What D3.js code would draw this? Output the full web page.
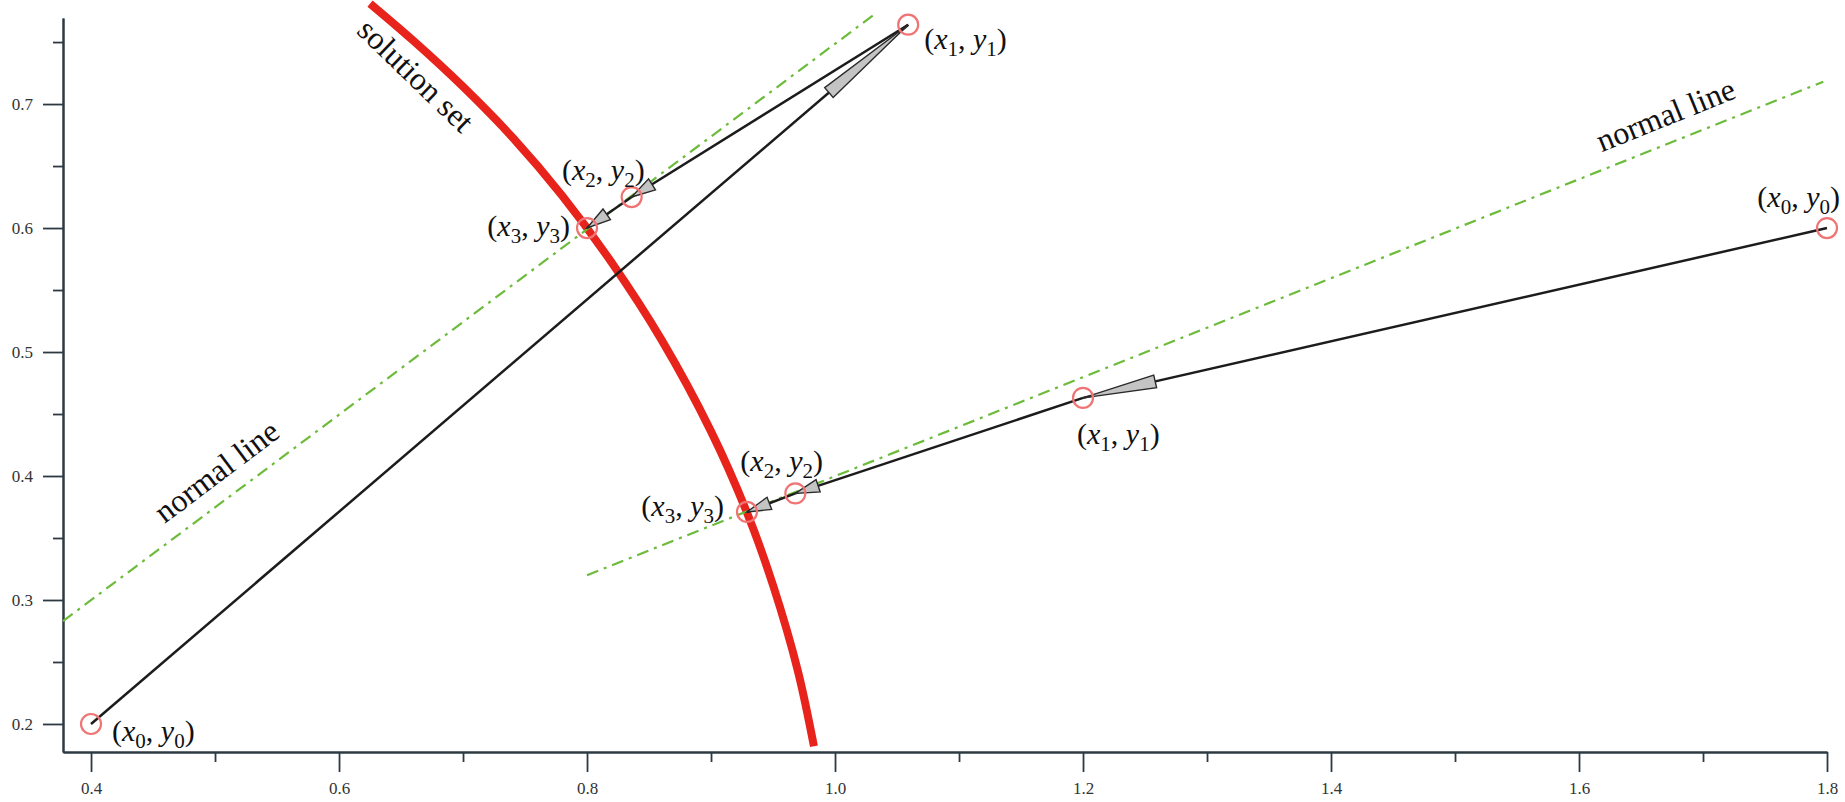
<!DOCTYPE html>
<html>
<head>
<meta charset="utf-8">
<script src="https://cdn.jsdelivr.net/npm/d3@7"></script>
<style>
  html, body { margin: 0; padding: 0; background: #fff; }
  svg { display: block; }
</style>
</head>
<body>
<svg id="chart" width="1845" height="802"></svg>
<script>
// ---------- data ----------
const xMajorTicks = [0.4, 0.6, 0.8, 1.0, 1.2, 1.4, 1.6, 1.8];
const xTickLabels = ["0.4", "0.6", "0.8", "1.0", "1.2", "1.4", "1.6", "1.8"];
const xMinorTicks = [0.5, 0.7, 0.9, 1.1, 1.3, 1.5, 1.7];
const yMajorTicks = [0.2, 0.3, 0.4, 0.5, 0.6, 0.7];
const yTickLabels = ["0.2", "0.3", "0.4", "0.5", "0.6", "0.7"];
const yMinorTicks = [0.25, 0.35, 0.45, 0.55, 0.65, 0.75];

// solution set curve (red)
const solutionX = [0.625, 0.66, 0.70, 0.74, 0.78, 0.82, 0.86, 0.90, 0.93, 0.95, 0.97, 0.983];
const solutionY = [0.781, 0.751, 0.714, 0.673, 0.626, 0.572, 0.510, 0.436, 0.368, 0.312, 0.243, 0.182];

// iterates, starting point (0.4, 0.2)
const leftIterX = [0.4, 1.059, 0.836, 0.80];
const leftIterY = [0.2, 0.764, 0.625, 0.60];
// iterates, starting point (1.8, 0.6)
const rightIterX = [1.8, 1.20, 0.968, 0.929];
const rightIterY = [0.6, 0.463, 0.386, 0.371];
const iterIndex = ["0", "1", "2", "3"];

// normal lines (green dash-dot)
const normalLeftX = [0.3774, 1.034];
const normalLeftY = [0.283, 0.774];
const normalRightX = [0.80, 1.797];
const normalRightY = [0.320, 0.718];

const curveLabels = ["solution set", "normal line", "normal line"];
const curveLabelX = [0.660, 0.503, 1.671];
const curveLabelY = [0.721, 0.4016, 0.6887];

// ---------- layout ----------
const svg = d3.select("#chart");
const x = d3.scaleLinear().domain([0.3774, 1.8]).range([63, 1827]);
const y = d3.scaleLinear().domain([0.1774, 0.7694]).range([752, 18]);

const axisColor = "#2d3a44";
const serif = "'Liberation Serif', 'Times New Roman', serif";

// axes
function styleAxis(g) {
  g.select(".domain").attr("stroke", axisColor).attr("stroke-width", 2);
  g.selectAll(".tick line").attr("stroke", axisColor).attr("stroke-width", 1.8);
  g.selectAll(".tick text").attr("fill", "#333").style("font-family", serif).style("font-size", "17px");
}
const gx = svg.append("g").attr("transform", `translate(0,${y.range()[0]})`)
  .call(d3.axisBottom(x).tickValues(xMajorTicks).tickSize(20).tickSizeOuter(0).tickPadding(10)
    .tickFormat((d, i) => xTickLabels[i]));
styleAxis(gx);
const gxm = svg.append("g").attr("transform", `translate(0,${y.range()[0]})`)
  .call(d3.axisBottom(x).tickValues(xMinorTicks).tickSize(10).tickSizeOuter(0).tickFormat(""));
styleAxis(gxm);
const gy = svg.append("g").attr("transform", `translate(${x.range()[0]},0)`)
  .call(d3.axisLeft(y).tickValues(yMajorTicks).tickSize(20).tickSizeOuter(0).tickPadding(10)
    .tickFormat((d, i) => yTickLabels[i]));
styleAxis(gy);
const gym = svg.append("g").attr("transform", `translate(${x.range()[0]},0)`)
  .call(d3.axisLeft(y).tickValues(yMinorTicks).tickSize(10).tickSizeOuter(0).tickFormat(""));
styleAxis(gym);

// solution set
const solPts = solutionX.map((v, i) => [v, solutionY[i]]);
svg.append("path")
  .attr("d", d3.line().x(d => x(d[0])).y(d => y(d[1])).curve(d3.curveCatmullRom)(solPts))
  .attr("fill", "none").attr("stroke", "#e8231c").attr("stroke-width", 8).attr("stroke-linecap", "butt");

// normal lines
[[normalLeftX, normalLeftY], [normalRightX, normalRightY]].forEach(([xs, ys]) => {
  svg.append("line")
    .attr("x1", x(xs[0])).attr("y1", y(ys[0])).attr("x2", x(xs[1])).attr("y2", y(ys[1]))
    .attr("stroke", "#6cbb3a").attr("stroke-width", 2.2).attr("stroke-dasharray", "12,6,3,6");
});

// iterate paths with arrows
function headLen(L) { return L > 500 ? 0.097 * L : 24; }
function drawIterates(xs, ys) {
  const pts = xs.map((v, i) => [x(v), y(ys[i])]);
  for (let i = 0; i < pts.length - 1; i++) {
    const [ax, ay] = pts[i], [bx, by] = pts[i + 1];
    svg.append("line").attr("x1", ax).attr("y1", ay).attr("x2", bx).attr("y2", by)
      .attr("stroke", "#1c1c1c").attr("stroke-width", 2.5);
  }
  for (let i = 0; i < pts.length - 1; i++) {
    const [ax, ay] = pts[i], [bx, by] = pts[i + 1];
    const L = Math.hypot(bx - ax, by - ay);
    const ux = (bx - ax) / L, uy = (by - ay) / L;
    const hl = headLen(L), hw = 6.5;
    const cx = bx - ux * hl, cy = by - uy * hl;
    const nx = -uy, ny = ux;
    const poly = [[bx, by], [cx + nx * hw, cy + ny * hw], [cx - nx * hw, cy - ny * hw]];
    svg.append("polygon").attr("points", poly.map(p => p.join(",")).join(" "))
      .attr("fill", "#c4c4c4").attr("stroke", "#2a2a2a").attr("stroke-width", 1.4)
      .attr("stroke-linejoin", "miter");
  }
  pts.forEach(p => {
    svg.append("circle").attr("cx", p[0]).attr("cy", p[1]).attr("r", 10)
      .attr("fill", "none").attr("stroke", "#f07474").attr("stroke-width", 2.2);
  });
  return pts;
}
const leftPts = drawIterates(leftIterX, leftIterY);
const rightPts = drawIterates(rightIterX, rightIterY);

// point labels: offsets (pixels) from each point, with anchor
const leftLabelPlace = [
  { dx: 21, dy: 17, anchor: "start" },
  { dx: 16, dy: 24, anchor: "start" },
  { dx: 13, dy: -17, anchor: "end" },
  { dx: -17, dy: 8, anchor: "end" }
];
const rightLabelPlace = [
  { dx: 13, dy: -21, anchor: "end" },
  { dx: -6, dy: 46, anchor: "start" },
  { dx: -55, dy: -22, anchor: "start" },
  { dx: -23, dy: 4, anchor: "end" }
];
function pointLabel(p, idx, place) {
  const t = svg.append("text")
    .attr("x", p[0] + place.dx).attr("y", p[1] + place.dy)
    .attr("text-anchor", place.anchor)
    .style("font-family", serif).style("font-size", "30px").attr("fill", "#111");
  t.append("tspan").text("(");
  t.append("tspan").style("font-style", "italic").text("x");
  t.append("tspan").attr("dy", 7).style("font-size", "21px").text(idx);
  t.append("tspan").attr("dy", -7).text(", ");
  t.append("tspan").style("font-style", "italic").text("y");
  t.append("tspan").attr("dy", 7).style("font-size", "21px").text(idx);
  t.append("tspan").attr("dy", -7).text(")");
}
leftPts.forEach((p, i) => pointLabel(p, iterIndex[i], leftLabelPlace[i]));
rightPts.forEach((p, i) => pointLabel(p, iterIndex[i], rightLabelPlace[i]));

// curve labels
const curveLabelAngle = [44, -37, -22];
curveLabels.forEach((s, i) => {
  const px = x(curveLabelX[i]), py = y(curveLabelY[i]);
  svg.append("text")
    .attr("transform", `translate(${px},${py}) rotate(${curveLabelAngle[i]})`)
    .attr("text-anchor", "middle").attr("dominant-baseline", "middle")
    .style("font-family", serif).style("font-size", "32px").attr("fill", "#111")
    .text(s);
});
</script>
</body>
</html>
